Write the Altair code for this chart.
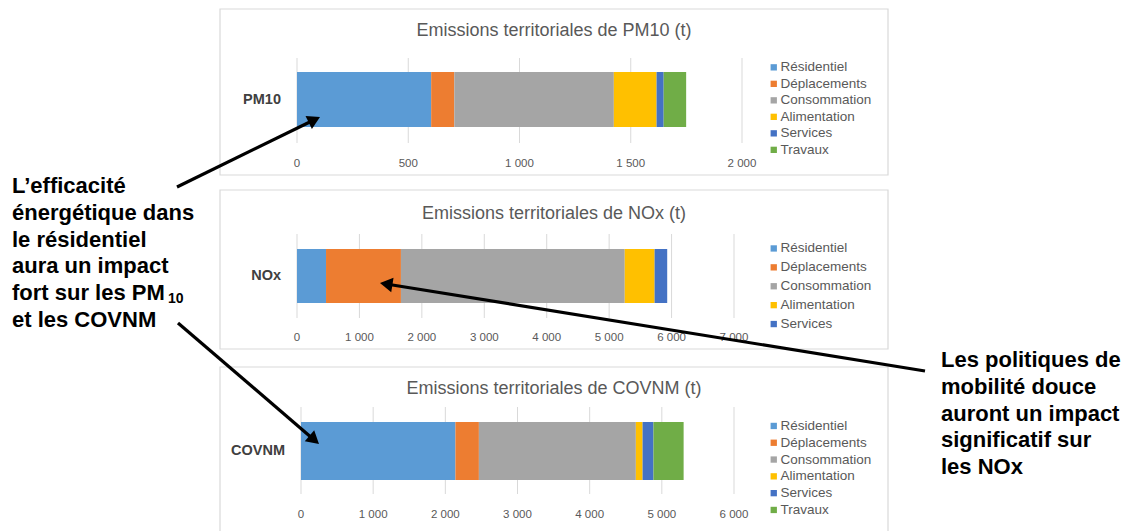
import math
import altair as alt
import pandas as pd

# ---------------- data ----------------
categories = ["Résidentiel", "Déplacements", "Consommation", "Alimentation", "Services", "Travaux"]
colors = ["#5B9BD5", "#ED7D31", "#A5A5A5", "#FFC000", "#4472C4", "#70AD47"]

pm10_values = [603, 104, 717, 192, 32, 101]
nox_values = [465, 1200, 3585, 478, 202]          # no "Travaux" series
covnm_values = [2140, 325, 2175, 93, 151, 418]

pm10_ticks = [0, 500, 1000, 1500, 2000]
pm10_tick_labels = ["0", "500", "1 000", "1 500", "2 000"]
nox_ticks = [0, 1000, 2000, 3000, 4000, 5000, 6000, 7000]
nox_tick_labels = ["0", "1 000", "2 000", "3 000", "4 000", "5 000", "6 000", "7 000"]
covnm_ticks = [0, 1000, 2000, 3000, 4000, 5000, 6000]
covnm_tick_labels = ["0", "1 000", "2 000", "3 000", "4 000", "5 000", "6 000"]

titles = ["Emissions territoriales de PM10 (t)",
          "Emissions territoriales de NOx (t)",
          "Emissions territoriales de COVNM (t)"]
pollutants = ["PM10", "NOx", "COVNM"]

left_note = ["L’efficacité", "énergétique dans", "le résidentiel",
             "aura un impact", "fort sur les PM", "et les COVNM"]
left_note_sub = "10"
right_note = ["Les politiques de", "mobilité douce", "auront un impact",
              "significatif sur", "les NOx"]

# ---------------- layout (styling) ----------------
FONT = "Liberation Sans"
GRAY_TXT = "#595959"
GRID = "#d9d9d9"

layout = [
    dict(box=(1, 167), title_y=23, bar=(64, 119), xr=(289, 734), grid=(50, 135),
         tick_y=156, leg_y=52.6, row_pad=1.5),
    dict(box=(182, 341), title_y=206, bar=(241, 295), xr=(289, 726), grid=(226, 310),
         tick_y=330, leg_y=233.7, row_pad=3.9),
    dict(box=(359, 540), title_y=381, bar=(414, 472), xr=(293, 726), grid=(399, 486),
         tick_y=507, leg_y=411.2, row_pad=1.8),
]

dummy = pd.DataFrame({"d": [0]})
layers = []

series = [pm10_values, nox_values, covnm_values]
ticks = [pm10_ticks, nox_ticks, covnm_ticks]
tick_labels = [pm10_tick_labels, nox_tick_labels, covnm_tick_labels]

# panel boxes first
for lay in layout:
    layers.append(
        alt.Chart(dummy).mark_rect(fill="white", stroke=GRID, strokeWidth=1.2).encode(
            x=alt.value(212), x2=alt.value(880),
            y=alt.value(lay["box"][0]), y2=alt.value(lay["box"][1]))
    )

for i, lay in enumerate(layout):
    vals = series[i]
    cats = categories[:len(vals)]
    cols = colors[:len(vals)]
    xscale = alt.Scale(domain=[ticks[i][0], ticks[i][-1]], range=list(lay["xr"]),
                       nice=False, zero=True)

    tick_df = pd.DataFrame({"v": ticks[i], "lab": tick_labels[i]})
    # gridlines
    layers.append(
        alt.Chart(tick_df).mark_rule(color=GRID, strokeWidth=1).encode(
            x=alt.X("v:Q", scale=xscale, axis=None),
            y=alt.value(lay["grid"][0]), y2=alt.value(lay["grid"][1]))
    )
    # stacked bar
    bar_df = pd.DataFrame({"cat": cats, "value": vals, "idx": list(range(len(vals))),
                           "pollutant": [pollutants[i]] * len(vals)})
    layers.append(
        alt.Chart(bar_df).mark_bar().encode(
            x=alt.X("value:Q", stack="zero", scale=xscale, axis=None),
            y=alt.Y("pollutant:N", axis=None,
                    scale=alt.Scale(domain=[pollutants[i]], range=list(lay["bar"]),
                                    paddingInner=0, paddingOuter=0)),
            color=alt.Color("cat:N", scale=alt.Scale(domain=cats, range=cols),
                            legend=alt.Legend(orient="none", legendX=759, legendY=lay["leg_y"],
                                              title=None, symbolType="square", symbolSize=40,
                                              symbolStrokeWidth=0, labelFont=FONT,
                                              labelFontSize=13.5, labelColor=GRAY_TXT,
                                              rowPadding=lay["row_pad"], padding=0,
                                              labelOffset=0)),
            order=alt.Order("idx:Q", sort="ascending"),
        )
    )
    # tick labels
    layers.append(
        alt.Chart(tick_df).mark_text(font=FONT, fontSize=11.5, color=GRAY_TXT,
                                     baseline="middle", align="center").encode(
            x=alt.X("v:Q", scale=xscale, axis=None),
            y=alt.value(lay["tick_y"]), text="lab:N")
    )
    # title
    layers.append(
        alt.Chart(dummy).mark_text(font=FONT, fontSize=18, color=GRAY_TXT,
                                   baseline="middle", align="center").encode(
            x=alt.value(546), y=alt.value(lay["title_y"]), text=alt.value(titles[i]))
    )
    # category label (left of bar)
    layers.append(
        alt.Chart(dummy).mark_text(font=FONT, fontSize=14.5, fontWeight="bold", color="#404040",
                                   baseline="middle", align="right").encode(
            x=alt.value(lay["xr"][0] - 16),
            y=alt.value((lay["bar"][0] + lay["bar"][1]) / 2),
            text=alt.value(pollutants[i]))
    )

# ---------------- annotations ----------------
NOTE_SIZE = 22
LH = 26.8
layers.append(
    alt.Chart(dummy).mark_text(font=FONT, fontSize=NOTE_SIZE, fontWeight="bold", color="black",
                               align="left", baseline="middle", lineHeight=LH).encode(
        x=alt.value(4), y=alt.value(178), text=alt.value(left_note))
)
layers.append(
    alt.Chart(dummy).mark_text(font=FONT, fontSize=14, fontWeight="bold", color="black",
                               align="left", baseline="middle").encode(
        x=alt.value(160), y=alt.value(178 + 4 * LH + 6), text=alt.value(left_note_sub))
)
layers.append(
    alt.Chart(dummy).mark_text(font=FONT, fontSize=NOTE_SIZE, fontWeight="bold", color="black",
                               align="left", baseline="middle", lineHeight=LH).encode(
        x=alt.value(933), y=alt.value(352), text=alt.value(right_note))
)

arrows = [((169, 179), (312, 109)), ((170, 315), (311, 436)), ((917, 363), (372, 275))]
HEAD = 210
h = math.sqrt(HEAD) / 2 * math.sqrt(3) / 2
for (sx, sy), (tx, ty) in arrows:
    dx, dy = tx - sx, ty - sy
    L = math.hypot(dx, dy)
    ux, uy = dx / L, dy / L
    cx, cy = tx - ux * h, ty - uy * h
    ang = math.degrees(math.atan2(dx, -dy)) % 360
    layers.append(
        alt.Chart(dummy).mark_rule(color="black", strokeWidth=3.2).encode(
            x=alt.value(sx), y=alt.value(sy), x2=alt.value(cx), y2=alt.value(cy))
    )
    layers.append(
        alt.Chart(dummy).mark_point(shape="triangle-up", filled=True, color="black",
                                    size=HEAD, angle=ang, opacity=1, strokeWidth=0).encode(
            x=alt.value(cx), y=alt.value(cy))
    )

chart = alt.layer(*layers).resolve_scale(
    x="independent", y="independent", color="independent"
).properties(width=1114, height=515, padding=0, background="white").configure_view(strokeWidth=0)

chart.save("out.html", embed_options={"renderer": "svg", "actions": False})
